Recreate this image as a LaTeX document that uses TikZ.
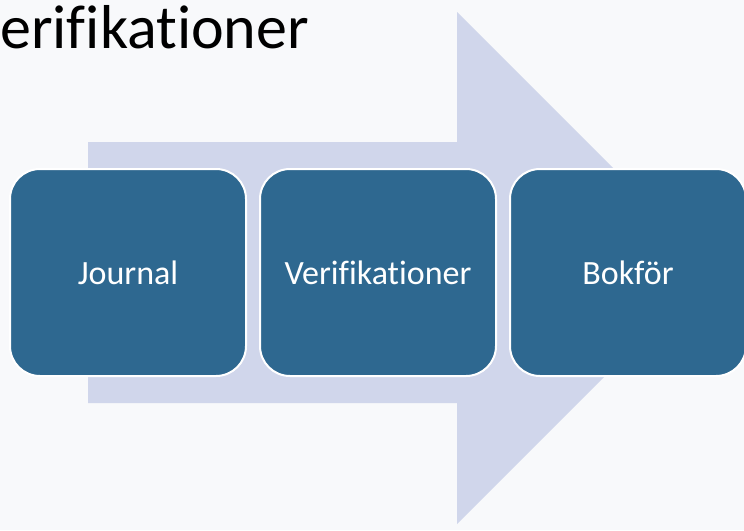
\documentclass[tikz,border=0pt]{standalone}
\usepackage{fontspec}
\setmainfont[Ligatures=NoCommon]{Carlito}
\usetikzlibrary{positioning}

\definecolor{bgcol}{HTML}{F8F9FB}
\definecolor{pilcol}{HTML}{D0D6EB}
\definecolor{stegcol}{HTML}{2E6890}

\tikzset{stegbox/.style={rectangle, rounded corners=30pt, fill=stegcol, draw=white,
  line width=2pt, minimum width=236pt, minimum height=207pt, text=white,
  font=\fontsize{34}{41}\selectfont}}

\begin{document}
\begin{tikzpicture}[x=1pt,y=-1pt]
  % bakgrund
  \fill[bgcol] (0,0) rectangle (744,530);
  \useasboundingbox (0,0) rectangle (744,530);

  % stora pilen
  \fill[pilcol] (88,142) -- (457,142) -- (457,12) -- (713,268)
    -- (457,524) -- (457,403) -- (88,403) -- cycle;

  % rubrik
  \node[anchor=base west, inner sep=0pt, font=\fontsize{62}{74}\selectfont]
    (rubrik) at (0,48) {erifikationer};

  % stegen
  \node[stegbox] (journal) at (128,272.5) {Journal};
  \node[stegbox, right=12pt of journal] (verif) {Verifikationer};
  \node[stegbox, right=12pt of verif] (bokfor) {Bokför};
\end{tikzpicture}
\end{document}
